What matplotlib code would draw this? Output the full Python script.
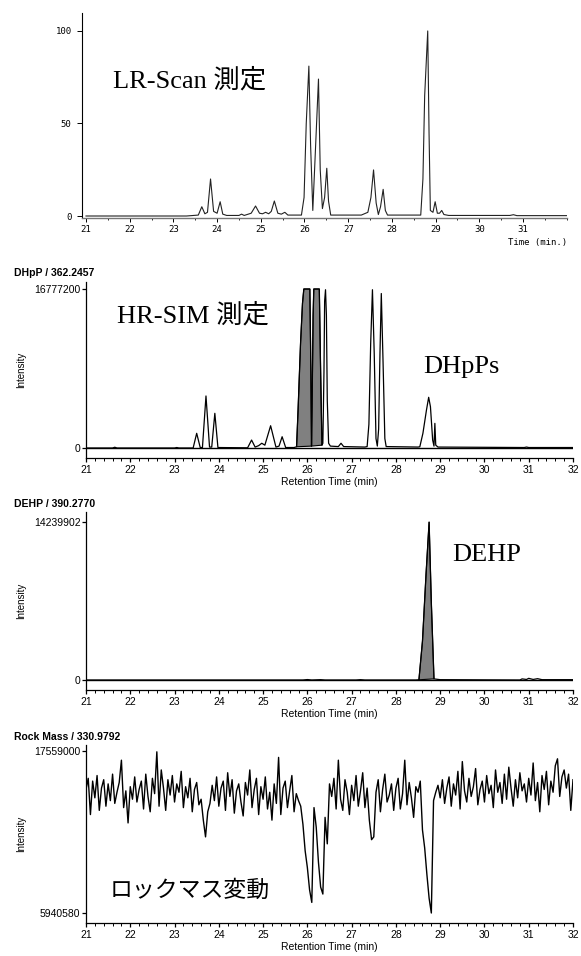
import numpy as np
import matplotlib.pyplot as plt
from matplotlib.ticker import MultipleLocator

# === Data ===
# LR-Scan TIC, relative intensity (%) : (retention time, response)
lr_points = [
    (21.0, 0), (23.3, 0), (23.57, 0.5), (23.65, 5), (23.72, 1.2), (23.78, 2),
    (23.85, 20), (23.92, 2.5), (24.0, 1.5), (24.07, 7.7), (24.13, 1), (24.22, 0.3),
    (24.5, 0.3), (24.56, 1), (24.62, 0.3), (24.78, 1.5), (24.88, 5.4), (24.97, 1.5),
    (25.04, 1.2), (25.11, 2), (25.18, 1.2), (25.24, 2.5), (25.31, 8.1), (25.39, 1.5),
    (25.47, 1), (25.55, 2), (25.62, 0.5), (25.93, 0.5), (25.99, 10), (26.04, 50),
    (26.10, 81), (26.14, 38), (26.19, 3), (26.24, 30), (26.32, 74), (26.36, 25),
    (26.41, 4), (26.46, 10), (26.51, 25.8), (26.55, 8), (26.60, 0.5), (27.30, 0.5),
    (27.45, 2), (27.52, 10), (27.58, 24.9), (27.64, 7), (27.69, 0.8), (27.74, 5),
    (27.80, 14.4), (27.85, 3), (27.90, 0.5), (28.66, 0.5), (28.71, 20), (28.75, 65),
    (28.82, 100), (28.85, 45), (28.88, 3), (28.94, 2), (28.99, 7.7), (29.04, 1.5),
    (29.09, 1.5), (29.14, 3), (29.19, 0.8), (29.30, 0.3), (30.70, 0.3), (30.78, 0.7),
    (30.86, 0.2), (32.0, 0.2),
]

# HR-SIM DHpP m/z 362.2457, intensity in millions
dhpp_points = [
    (21.0, 0), (21.6, 0), (21.65, 0.08), (21.7, 0), (23.0, 0), (23.05, 0.05),
    (23.1, 0), (23.42, 0), (23.50, 1.55), (23.58, 0.05), (23.63, 0.05), (23.71, 5.49),
    (23.79, 0.1), (23.84, 0.1), (23.91, 3.66), (23.98, 0.05), (24.65, 0.02),
    (24.74, 0.84), (24.82, 0.1), (24.90, 0.25), (24.97, 0.5), (25.04, 0.3),
    (25.17, 2.35), (25.29, 0.1), (25.36, 0.2), (25.43, 1.19), (25.51, 0.05),
    (25.70, 0.05), (25.756, 0.13), (25.79, 4.0), (25.846, 11.05), (25.89, 15.27),
    (25.92, 16.7772), (26.056, 16.7772), (26.08, 8.0), (26.094, 0.2), (26.11, 6.0),
    (26.13, 14.0), (26.145, 16.7772), (26.27, 16.7772), (26.30, 8.0), (26.33, 0.3),
    (26.35, 0.5), (26.375, 8.0), (26.39, 15.5), (26.41, 16.7), (26.43, 14.0),
    (26.45, 5.0), (26.48, 0.5), (26.52, 0.2), (26.70, 0.15), (26.76, 0.5),
    (26.82, 0.15), (27.30, 0.1), (27.35, 0.15), (27.39, 2.5), (27.43, 11.0),
    (27.47, 16.7), (27.51, 10.0), (27.55, 1.0), (27.58, 0.2), (27.61, 2.0),
    (27.64, 10.0), (27.67, 16.3), (27.71, 9.0), (27.75, 1.0), (27.78, 0.15),
    (28.50, 0.1), (28.54, 0.13), (28.61, 1.55), (28.69, 4.0), (28.74, 5.35),
    (28.78, 4.36), (28.83, 0.84), (28.86, 0.2), (28.88, 2.6), (28.90, 0.3),
    (28.95, 0.1), (30.90, 0.05), (30.95, 0.1), (31.0, 0.05), (32.0, 0.05),
]
dhpp_filled = [(25.756, 26.094), (26.094, 26.33)]

# DEHP m/z 390.2770, intensity in millions
dehp_points = [
    (21.0, 0), (25.9, 0), (26.0, 0.04), (26.1, 0), (26.3, 0.03), (26.4, 0),
    (27.1, 0), (27.2, 0.03), (27.3, 0), (28.45, 0), (28.52, 0.02), (28.60, 3.5),
    (28.68, 9.5), (28.75, 14.239902), (28.80, 7.0), (28.86, 0.1), (29.0, 0.03),
    (30.8, 0.0), (30.85, 0.1), (30.95, 0.05), (31.0, 0.15), (31.1, 0.05),
    (31.2, 0.12), (31.3, 0.03), (32.0, 0.03),
]
dehp_filled = [(28.52, 28.86)]

# Lock mass m/z 330.9792, intensity in millions, one reading every 0.05 min from 21.00
rock_start = 21.0
rock_step = 0.05
rock_values = [
    14.8, 15.6, 13.0, 15.4, 14.2, 15.8, 13.3, 14.9, 15.5, 13.6, 15.2, 14.0, 15.9, 13.8, 14.6, 15.3, 16.9, 13.5, 14.7, 12.4,
    15.0, 14.1, 15.7, 13.9, 14.8, 15.4, 13.4, 15.9, 14.3, 13.2, 15.6, 14.5, 17.5, 13.6, 16.2, 14.9, 13.3, 15.5, 14.4, 15.8,
    13.9, 15.2, 14.6, 16.1, 13.5, 15.0, 14.2, 15.6, 13.2, 14.8, 15.3, 13.7, 14.1, 12.6, 11.4, 13.2, 13.8, 15.1, 14.0, 15.7,
    13.6, 14.9, 15.4, 13.3, 16.0, 14.3, 15.5, 13.1, 14.7, 15.2, 13.9, 12.9, 15.3, 14.4, 16.2, 13.5, 14.8, 15.6, 13.0, 15.0,
    14.1, 15.7, 13.4, 14.6, 12.6, 15.2, 13.8, 17.1, 13.0, 14.9, 15.4, 13.5, 14.7, 15.8, 13.2, 14.5, 14.0, 13.6, 12.3, 10.4,
    9.2, 7.6, 6.7, 13.5, 12.1, 9.6, 7.8, 7.3, 12.8, 10.9, 15.2, 14.3, 15.6, 13.4, 16.9, 14.1, 13.3, 15.5, 14.6, 13.0,
    15.1, 14.0, 15.8, 13.6, 14.7, 16.0, 13.5, 14.9, 12.6, 11.2, 11.4, 14.6, 15.5, 13.2, 14.8, 15.9, 13.9, 14.4, 15.2, 13.3,
    14.9, 15.6, 13.4, 14.5, 16.9, 13.7, 15.3, 14.2, 12.8, 15.0, 14.6, 15.4, 11.9, 10.6, 8.7, 7.0, 5.94, 14.0, 14.6, 15.1,
    14.2, 15.5, 13.8, 14.9, 15.7, 13.6, 15.2, 14.4, 16.1, 13.4, 16.8, 14.7, 13.9, 15.6, 14.3, 15.0, 16.3, 13.7, 14.8, 15.4,
    13.9, 15.8, 14.5, 15.1, 13.5, 16.2, 14.6, 15.3, 13.8, 15.9, 14.1, 16.4, 14.9, 13.6, 15.5, 14.2, 16.0, 14.7, 15.2, 13.9,
    15.6, 14.4, 16.7, 14.0, 15.3, 13.2, 15.8, 14.8, 16.1, 13.7, 15.4, 14.6, 16.5, 17.0, 14.3, 15.7, 16.2, 14.9, 15.9, 13.3,
    15.5,
]

x_ticks = list(range(21, 33))
lr_x_ticks = list(range(21, 32))
lr_y_ticks = [0, 50, 100]
dhpp_y_ticks = [0, 16777200]
dehp_y_ticks = [0, 14239902]
rock_y_ticks = [5940580, 17559000]

# === Figure setup ===
W, H = 581, 956
plt.rcParams['font.family'] = ['Liberation Sans', 'DejaVu Sans']
fig = plt.figure(figsize=(W / 100, H / 100), dpi=100)
serif_jp = ['Liberation Serif', 'Noto Sans CJK JP']


def add_axes_px(left, top, right, bottom):
    return fig.add_axes([left / W, 1 - bottom / H, (right - left) / W, (bottom - top) / H])


def fig_text(x, y, s, **kw):
    fig.text(x / W, 1 - y / H, s, **kw)


def split(points, scale=1.0):
    t = np.array([p[0] for p in points])
    v = np.array([p[1] for p in points]) * scale
    return t, v


def style_ms(ax, ylim, yticks, title, title_y):
    ax.set_xlim(21, 32)
    ax.set_ylim(*ylim)
    for side in ['top', 'right']:
        ax.spines[side].set_visible(False)
    for side in ['left', 'bottom']:
        ax.spines[side].set_linewidth(0.9)
    ax.set_xticks(x_ticks)
    ax.xaxis.set_minor_locator(MultipleLocator(0.2))
    ax.tick_params(axis='x', which='major', direction='out', length=3.2, width=0.9,
                   labelsize=7.5, pad=1.5)
    ax.tick_params(axis='x', which='minor', direction='out', length=1.8, width=0.7)
    ax.set_yticks(yticks)
    ax.set_yticklabels([str(v) for v in yticks])
    ax.tick_params(axis='y', direction='out', length=3, width=0.9, labelsize=7.5, pad=1)
    ax.set_xlabel('Retention Time (min)', fontsize=7.5, labelpad=2)
    fig_text(14, title_y, title, fontsize=7.5, fontweight='bold', va='center')
    box = ax.get_position()
    fig.text(21 / W, (box.y0 + box.y1) / 2, 'Intensity', rotation=90, fontsize=7,
             va='center', ha='center')


# === Panel 1: LR-Scan ===
ax1 = add_axes_px(82, 13, 567, 218)
t, v = split(lr_points)
ax1.plot(t, v, color='#222222', linewidth=0.8)
ax1.set_xlim(20.9085, 32.007)
ax1.set_ylim(-1.08, 109.7)
for side in ['top', 'right']:
    ax1.spines[side].set_visible(False)
ax1.spines['left'].set_linewidth(0.8)
ax1.spines['bottom'].set_color('#777777')
ax1.spines['bottom'].set_linewidth(1.0)
ax1.set_xticks(lr_x_ticks)
ax1.xaxis.set_minor_locator(MultipleLocator(0.5))
ax1.set_yticks(lr_y_ticks)
ax1.tick_params(axis='both', which='major', direction='out', length=3, width=0.7,
                labelsize=6.5, labelfontfamily='DejaVu Sans Mono', pad=2)
ax1.tick_params(axis='y', length=3.5, pad=4)
ax1.tick_params(axis='x', which='minor', direction='out', length=1.5, width=0.6)
ax1.set_xlabel('Time (min.)', fontsize=6.5, fontfamily='DejaVu Sans Mono', loc='right',
               labelpad=3)
fig_text(113, 80, 'LR-Scan 測定', fontsize=19, family=serif_jp, va='center')

# === Panel 2: HR-SIM DHpP ===
ax2 = add_axes_px(86, 282, 573, 458)
t, v = split(dhpp_points, 1e6)
for t0, t1 in dhpp_filled:
    m = (t >= t0) & (t <= t1)
    ax2.fill(t[m], v[m], facecolor='#808080', edgecolor='black', linewidth=0.8)
ax2.plot(t, v, color='black', linewidth=0.9)
ax2.axhline(0, color='black', linewidth=1.0)
style_ms(ax2, (-1.055e6, 17515800), dhpp_y_ticks, 'DHpP / 362.2457', 273)
fig_text(117, 315, 'HR-SIM 測定', fontsize=19, family=serif_jp, va='center')
fig_text(423, 367, 'DHpPs', fontsize=19, family=serif_jp, va='center')

# === Panel 3: DEHP ===
ax3 = add_axes_px(86, 512, 573, 690)
t, v = split(dehp_points, 1e6)
for t0, t1 in dehp_filled:
    m = (t >= t0) & (t <= t1)
    ax3.fill(t[m], v[m], facecolor='#808080', edgecolor='black', linewidth=0.8)
ax3.plot(t, v, color='black', linewidth=0.9)
ax3.axhline(0, color='black', linewidth=1.0)
style_ms(ax3, (-901260, 15141162), dehp_y_ticks, 'DEHP / 390.2770', 504)
fig_text(452, 555, 'DEHP', fontsize=19, family=serif_jp, va='center')

# === Panel 4: lock mass ===
ax4 = add_axes_px(86, 745, 573, 923)
rock_t = rock_start + rock_step * np.arange(len(rock_values))
ax4.plot(rock_t, np.array(rock_values) * 1e6, color='black', linewidth=1.0)
style_ms(ax4, (5223390, 17989314), rock_y_ticks, 'Rock Mass / 330.9792', 737)
fig_text(110, 890, 'ロックマス変動', fontsize=16.5, family=['Noto Sans CJK JP', 'DejaVu Sans'],
         va='center')

fig.savefig('out.png', dpi=100)
